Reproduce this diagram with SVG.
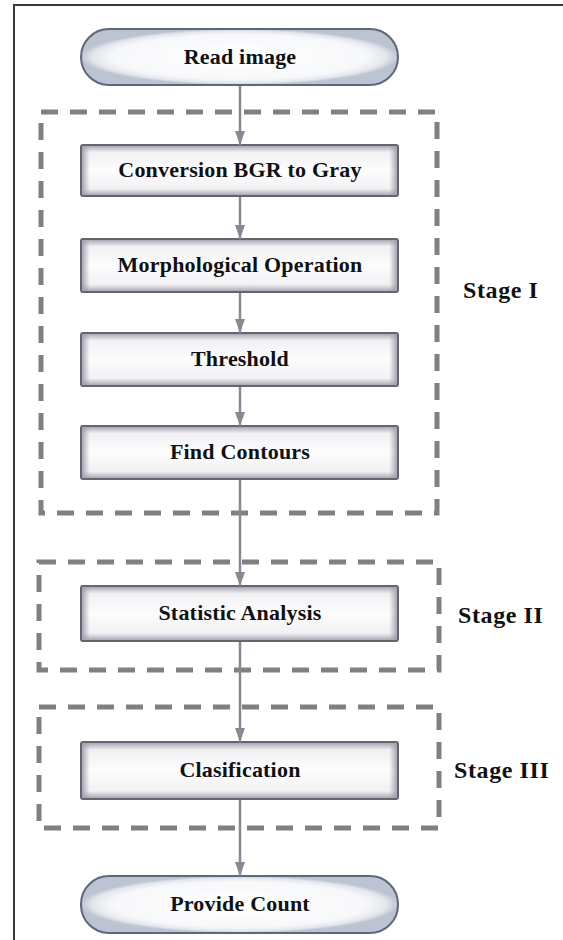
<svg xmlns="http://www.w3.org/2000/svg" width="563" height="940" viewBox="0 0 563 940">
  <style>
    .frame { stroke: #3a3a3a; stroke-width: 2; fill: none; }
    .stage { fill: none; stroke: #808080; stroke-width: 5; stroke-dasharray: 17 12; }
    .box { fill: url(#boxV); stroke: #67636f; stroke-width: 2; }
    .boxh { fill: url(#boxH); stroke: none; }
    .pill { fill: url(#pillG); stroke: #5f687a; stroke-width: 2; }
    .lbl { font-family: "Liberation Serif", "Times New Roman", serif; font-weight: bold; font-size: 22px; letter-spacing: 0.2px; fill: #111111; text-anchor: middle; }
    .stg { font-family: "Liberation Serif", "Times New Roman", serif; font-weight: bold; font-size: 24px; letter-spacing: 0.6px; fill: #111111; }
    .conn { stroke: #8a8894; stroke-width: 2.5; fill: none; }
  </style>
  <defs>
    <marker id="arrow" viewBox="0 0 14 10" refX="14" refY="5" markerWidth="14" markerHeight="10" markerUnits="userSpaceOnUse" orient="auto">
      <path d="M0,0 L14,5 L0,10 Z" fill="#8a8894"/>
    </marker>
    <linearGradient id="boxV" x1="0" y1="0" x2="0" y2="1">
      <stop offset="0" stop-color="#a39dac"/>
      <stop offset="0.14" stop-color="#f1f0f3"/>
      <stop offset="0.5" stop-color="#fdfdfe"/>
      <stop offset="0.86" stop-color="#f1f0f3"/>
      <stop offset="1" stop-color="#a39dac"/>
    </linearGradient>
    <linearGradient id="boxH" x1="0" y1="0" x2="1" y2="0">
      <stop offset="0" stop-color="#a39dac" stop-opacity="0.9"/>
      <stop offset="0.025" stop-color="#a39dac" stop-opacity="0"/>
      <stop offset="0.975" stop-color="#a39dac" stop-opacity="0"/>
      <stop offset="1" stop-color="#a39dac" stop-opacity="0.9"/>
    </linearGradient>
    <radialGradient id="pillG" cx="0.5" cy="0.5" r="0.5">
      <stop offset="0" stop-color="#ffffff"/>
      <stop offset="0.8" stop-color="#f7f8fa"/>
      <stop offset="0.93" stop-color="#e2e6ec"/>
      <stop offset="1" stop-color="#bcc4d1"/>
    </radialGradient>
  </defs>

  <g id="frame">
    <path class="frame" d="M14,940 L14,5 L563,5"/>
  </g>

  <g id="stage1">
    <rect class="stage" x="41" y="112" width="396" height="401"/>
    <text class="stg" x="463" y="298">Stage I</text>
  </g>
  <g id="stage2">
    <rect class="stage" x="39" y="562" width="400" height="108"/>
    <text class="stg" x="458" y="623">Stage II</text>
  </g>
  <g id="stage3">
    <rect class="stage" x="39" y="707" width="400" height="121"/>
    <text class="stg" x="454" y="778">Stage III</text>
  </g>

  <g id="read-image">
    <rect class="pill" x="81" y="29" width="317" height="56" rx="28" ry="28"/>
    <text class="lbl" x="240" y="64">Read image</text>
  </g>
  <g id="conversion">
    <rect class="box" x="81" y="145" width="317" height="51" rx="2"/>
    <rect class="boxh" x="82" y="146" width="315" height="49"/>
    <text class="lbl" x="240" y="177">Conversion BGR to Gray</text>
  </g>
  <g id="morphological">
    <rect class="box" x="81" y="239" width="317" height="53" rx="2"/>
    <rect class="boxh" x="82" y="240" width="315" height="51"/>
    <text class="lbl" x="240" y="272">Morphological Operation</text>
  </g>
  <g id="threshold">
    <rect class="box" x="81" y="333" width="317" height="53" rx="2"/>
    <rect class="boxh" x="82" y="334" width="315" height="51"/>
    <text class="lbl" x="240" y="366">Threshold</text>
  </g>
  <g id="find-contours">
    <rect class="box" x="81" y="426" width="317" height="53" rx="2"/>
    <rect class="boxh" x="82" y="427" width="315" height="51"/>
    <text class="lbl" x="240" y="459">Find Contours</text>
  </g>
  <g id="statistic-analysis">
    <rect class="box" x="81" y="586" width="317" height="55" rx="2"/>
    <rect class="boxh" x="82" y="587" width="315" height="53"/>
    <text class="lbl" x="240" y="620">Statistic Analysis</text>
  </g>
  <g id="clasification">
    <rect class="box" x="81" y="742" width="317" height="57" rx="2"/>
    <rect class="boxh" x="82" y="743" width="315" height="55"/>
    <text class="lbl" x="240" y="777">Clasification</text>
  </g>
  <g id="provide-count">
    <rect class="pill" x="81" y="876" width="317" height="57" rx="28" ry="28"/>
    <text class="lbl" x="240" y="911">Provide Count</text>
  </g>

  <g id="connectors">
    <line class="conn" marker-end="url(#arrow)" x1="240" y1="86" x2="240" y2="145"/>
    <line class="conn" marker-end="url(#arrow)" x1="240" y1="197" x2="240" y2="239"/>
    <line class="conn" marker-end="url(#arrow)" x1="240" y1="293" x2="240" y2="333"/>
    <line class="conn" marker-end="url(#arrow)" x1="240" y1="387" x2="240" y2="426"/>
    <line class="conn" marker-end="url(#arrow)" x1="240" y1="480" x2="240" y2="586"/>
    <line class="conn" marker-end="url(#arrow)" x1="240" y1="642" x2="240" y2="742"/>
    <line class="conn" marker-end="url(#arrow)" x1="240" y1="800" x2="240" y2="876"/>
  </g>
</svg>
